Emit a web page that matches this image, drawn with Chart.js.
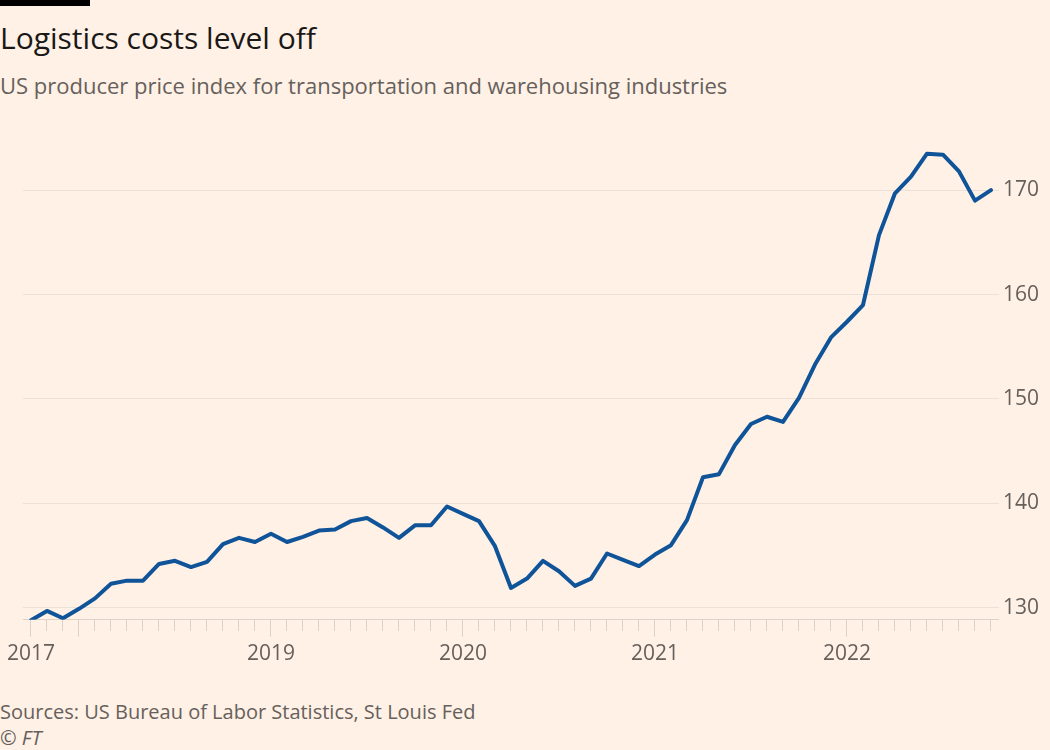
<!DOCTYPE html>
<html>
<head>
<meta charset="utf-8">
<script src="https://cdn.jsdelivr.net/npm/chart.js@4.4.0/dist/chart.umd.min.js"></script>
<style>
    html, body { margin: 0; padding: 0; background: #fff1e5; }
    body { width: 1050px; height: 750px; position: relative; overflow: hidden; font-family: 'Open Sans', sans-serif; }
    .bar { position: absolute; left: 0; top: 0; width: 90px; height: 6px; background: #000; }
    .title { position: absolute; left: 0; top: 17px; font-size: 30px; color: #1a1817; white-space: nowrap; }
    .subtitle { position: absolute; left: 0; top: 70px; font-size: 22px; color: #66605c; white-space: nowrap; }
    .source { position: absolute; left: 0; top: 698px; font-size: 20px; color: #66605c; white-space: nowrap; }
    .copy { position: absolute; left: 0; top: 724px; font-size: 20px; color: #66605c; font-style: italic; }
    .chart-box { position: absolute; left: 0; top: 120px; width: 1050px; height: 560px; }
</style>
</head>
<body>
<div class="bar"></div>
<div class="title">Logistics costs level off</div>
<div class="subtitle">US producer price index for transportation and warehousing industries</div>
<div class="chart-box"><canvas id="ppi-chart"></canvas></div>
<div class="source">Sources: US Bureau of Labor Statistics, St Louis Fed</div>
<div class="copy">© FT</div>

<script>
const months = [
    '2017-10', '2017-11', '2017-12',
    '2018-01', '2018-02', '2018-03', '2018-04', '2018-05', '2018-06',
    '2018-07', '2018-08', '2018-09', '2018-10', '2018-11', '2018-12',
    '2019-01', '2019-02', '2019-03', '2019-04', '2019-05', '2019-06',
    '2019-07', '2019-08', '2019-09', '2019-10', '2019-11', '2019-12',
    '2020-01', '2020-02', '2020-03', '2020-04', '2020-05', '2020-06',
    '2020-07', '2020-08', '2020-09', '2020-10', '2020-11', '2020-12',
    '2021-01', '2021-02', '2021-03', '2021-04', '2021-05', '2021-06',
    '2021-07', '2021-08', '2021-09', '2021-10', '2021-11', '2021-12',
    '2022-01', '2022-02', '2022-03', '2022-04', '2022-05', '2022-06',
    '2022-07', '2022-08', '2022-09', '2022-10',
];

const ppiValues = [
    128.8, 129.7, 129.0,
    129.9, 130.9, 132.3, 132.6, 132.6, 134.2,
    134.5, 133.9, 134.4, 136.1, 136.7, 136.3,
    137.1, 136.3, 136.8, 137.4, 137.5, 138.3,
    138.6, 137.7, 136.7, 137.9, 137.9, 139.7,
    139.0, 138.3, 135.9, 131.9, 132.8, 134.5,
    133.5, 132.1, 132.8, 135.2, 134.6, 134.0,
    135.1, 136.0, 138.4, 142.5, 142.8, 145.6,
    147.6, 148.3, 147.8, 150.1, 153.3, 155.9,
    157.4, 159.0, 165.7, 169.7, 171.3, 173.5,
    173.4, 171.8, 169.0, 170.0,
];

// Month -> label shown under the axis
const yearLabels = {
    '2017-10': '2017',
    '2019-01': '2019',
    '2020-01': '2020',
    '2021-01': '2021',
    '2022-01': '2022',
};

const yTicks = [130, 140, 150, 160, 170];

const gridColor = '#ebe1d7';
const axisColor = '#ddd2c8';
const textColor = '#66605c';

const ctx = document.getElementById('ppi-chart').getContext('2d');

new Chart(ctx, {
    type: 'line',
    data: {
        labels: months,
        datasets: [
            {
                label: 'PPI',
                data: ppiValues,
                borderColor: '#0f5499',
                borderWidth: 4,
                pointRadius: 0,
                tension: 0,
                fill: false,
                borderJoinStyle: 'round',
                borderCapStyle: 'round',
            },
        ],
    },
    options: {
        responsive: true,
        maintainAspectRatio: false,
        animation: false,
        layout: { padding: { left: 23, right: 7, top: 18, bottom: 8 } },
        plugins: {
            legend: { display: false },
            tooltip: { enabled: false },
        },
        scales: {
            x: {
                type: 'category',
                offset: true,
                grid: {
                    drawOnChartArea: false,
                    offset: false,
                    tickLength: 17,
                    tickColor: axisColor,
                    tickWidth: 1,
                    // short ticks for months, long for January and the first point
                    tickBorderDash: (c) => {
                        const m = months[c.index] || '';
                        return (m.endsWith('-01') || c.index === 0) ? [] : [11, 40];
                    },
                },
                border: { display: true, color: axisColor, width: 1 },
                ticks: {
                    autoSkip: false,
                    maxRotation: 0,
                    padding: 5,
                    color: textColor,
                    font: { family: 'Open Sans', size: 21 },
                    callback: (value, index) => yearLabels[months[index]] || '',
                },
            },
            y: {
                position: 'right',
                min: 128.85,
                max: 175,
                afterBuildTicks: (scale) => {
                    scale.ticks = yTicks.map((v) => ({ value: v }));
                },
                grid: {
                    color: gridColor,
                    lineWidth: 1,
                    drawTicks: false,
                },
                border: { display: false },
                ticks: {
                    padding: 4,
                    color: textColor,
                    font: { family: 'Open Sans', size: 21 },
                },
            },
        },
    },
});
</script>
</body>
</html>
